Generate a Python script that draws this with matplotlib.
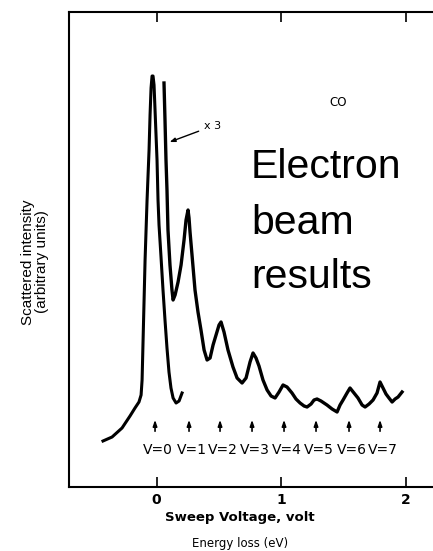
import matplotlib
matplotlib.use("Agg")
import matplotlib.pyplot as plt
import numpy as np

W, H = 433, 551

# ---- data (energy loss in eV, intensity in arbitrary units) ----
main_px = [(103,441),(112,437),(122,428),(130,416),(135,408),(139,402),(141,395),(142,380),
           (143,340),(144,300),(145,260),(147,200),(149,150),(150,115),(151,88),(152,76),
           (153,76),(154,85),(155,110),(157,160),(158,200),(159,225),(161,257),(163,290),
           (165,320),(167,348),(169,372),(171,388),(173,398),(176,403),(179,401),(182,393)]
x3_px = [(164,83),(165,120),(166,160),(167,190),(168,230),(170,265),(172,290),(173,300),
         (175,295),(178,282),(181,265),(184,240),(186,220),(188,210),(189,218),(190,232),
         (192,255),(195,290),(198,312),(201,330),(204,350),(207,360),(210,358),(213,345),
         (216,335),(219,325),(221,322),(224,332),(228,350),(233,367),(237,378),(242,383),
         (246,378),(250,362),(253,353),(256,358),(259,366),(263,380),(267,390),(271,396),
         (275,398),(279,392),(283,385),(287,387),(292,393),(296,399),(300,403),(304,406),
         (307,407),(311,404),(314,400),(317,399),(321,401),(327,405),(332,409),(337,412),
         (340,405),(343,400),(347,393),(350,388),(354,393),(358,398),(362,405),(365,407),
         (369,404),(373,400),(377,393),(380,382),(383,388),(386,394),(389,398),(392,402),
         (395,399),(398,397),(402,392)]

def to_e(px):
    return (px - 156.5) / 124.5

def to_i(py):
    return 487 - py

main_energy = [round(to_e(p[0]), 3) for p in main_px]
main_intensity = [to_i(p[1]) for p in main_px]
x3_energy = [round(to_e(p[0]), 3) for p in x3_px]
x3_intensity = [to_i(p[1]) for p in x3_px]

vib_labels = ["V=0", "V=1", "V=2", "V=3", "V=4", "V=5", "V=6", "V=7"]
vib_energy = [-0.012, 0.261, 0.51, 0.767, 1.024, 1.281, 1.546, 1.795]
xticks = [0, 1, 2]
xtick_labels = ["0", "1", "2"]
big_lines = ["Electron", "beam", "results"]

# ---- figure ----
fig = plt.figure(figsize=(W/100, H/100), dpi=100)
ax = fig.add_axes([69/W, 1-487/H, (450-69)/W, (487-12)/H])
ax.set_xlim(-0.703, 2.357)
ax.set_ylim(0, 475)

ax.plot(main_energy, main_intensity, color="black", lw=2.2, solid_joinstyle="round")
ax.plot(x3_energy, x3_intensity, color="black", lw=2.4, solid_joinstyle="round")

for s in ["left", "top", "bottom"]:
    ax.spines[s].set_linewidth(1.5)
ax.spines["right"].set_visible(False)

ax.set_xticks(xticks)
ax.set_xticklabels(xtick_labels, fontsize=10, fontweight="bold")
ax.tick_params(axis="x", direction="in", length=7, width=1.2, top=True, pad=4)
ax.set_yticks([])

# arrows and V labels
for e, lab in zip(vib_energy, vib_labels):
    ax.annotate("", xy=(e, to_i(417)), xytext=(e, to_i(434)),
                arrowprops=dict(arrowstyle="-|>,head_length=0.35,head_width=0.12",
                                color="black", lw=1.2))
    ax.text(e + 0.02, to_i(450), lab, ha="center", va="center", fontsize=10)

# annotations
ax.annotate("x 3", xy=(to_e(167), to_i(143)), xytext=(to_e(204), to_i(126)),
            fontsize=8, va="center", ha="left",
            arrowprops=dict(arrowstyle="-|>,head_length=0.4,head_width=0.15",
                            color="black", lw=1.0))
fig.text(338/W, 1-103/H, "CO", fontsize=8.5, ha="center", va="center")

for line, base in zip(big_lines, [178, 234, 288]):
    fig.text(251/W, 1-base/H, line, fontsize=29.5,
             family="Liberation Sans", ha="left", va="baseline")

fig.text(240/W, 1-517/H, "Sweep Voltage, volt", fontsize=9.5, fontweight="bold",
         ha="center", va="center")
fig.text(240/W, 1-543/H, "Energy loss (eV)", fontsize=8.5, ha="center", va="center")

fig.text(35/W, 1-262/H, "Scattered intensity\n(arbitrary units)", rotation=90,
         fontsize=11, family="Liberation Sans", ha="center", va="center",
         multialignment="center", linespacing=1.0)

fig.savefig("out.png", dpi=100)
